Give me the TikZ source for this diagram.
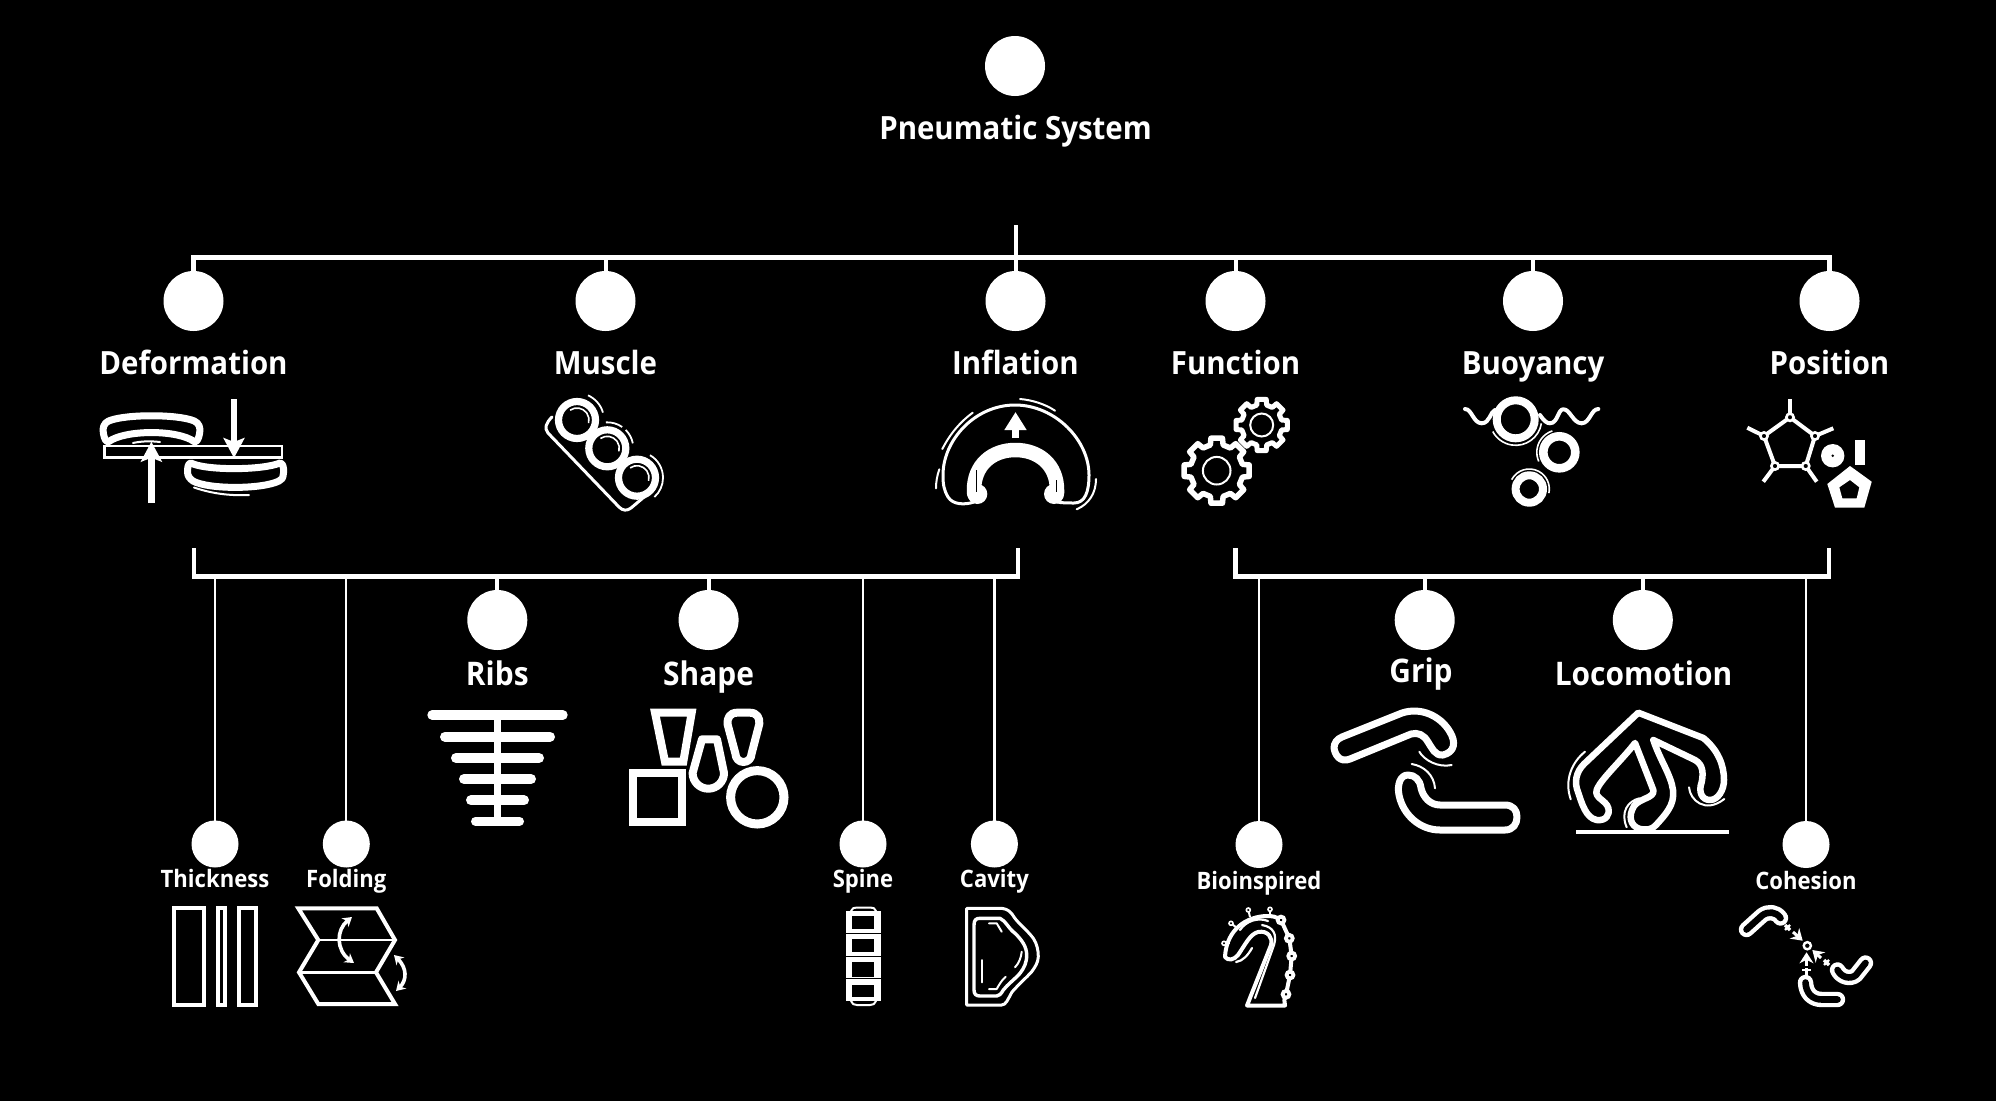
\documentclass[tikz,border=0pt]{standalone}
\usepackage{fontspec}
\setmainfont{Open Sans}[BoldFont={Open Sans Bold},BoldFeatures={FakeStretch=0.92}]
\usetikzlibrary{arrows.meta}
\tikzset{
  bigdot/.style={circle,fill=white,draw=none,minimum size=60pt,inner sep=0pt,outer sep=0pt},
  smalldot/.style={circle,fill=white,draw=none,minimum size=47pt,inner sep=0pt,outer sep=0pt},
  lab/.style={text=white,anchor=base,inner sep=0pt,font=\bfseries\fontsize{#1}{#1}\selectfont},
  heavy/.style={draw=white,line width=4.2pt},
  link/.style={draw=white,line width=4pt},
  thinlink/.style={draw=white,line width=2.2pt},
  ic/.style={draw=white,line width=#1,line join=round,line cap=round},
  icm/.style={draw=white,line width=#1,line join=miter},
  tube/.style={draw=white,line width=4.4pt,double=black,double distance=6.6pt,line cap=round,line join=round},
  headw/.style={-{Stealth[length=11pt,width=14pt]}},
}
\newcommand\ringarc[6]{\draw[draw=white,line width=#6] ([shift={(#1,#2)}]#4:#3) arc[start angle=#4,end angle=#5,radius=#3];}
\newcommand\gearshape[5]{\draw[draw=white,line width=#5,line join=round] ([shift={(#1,#2)}]-14:#4)
  \foreach \a in {0,45,...,315}{ -- ([shift={(#1,#2)}]\a-14:#4) -- ([shift={(#1,#2)}]\a-10:#3) -- ([shift={(#1,#2)}]\a+10:#3) -- ([shift={(#1,#2)}]\a+14:#4)} -- cycle;}
\begin{document}
\begin{tikzpicture}[x=1pt,y=-1pt]
\useasboundingbox (0,0) rectangle (1996,1100);
\fill[black] (-6,-6) rectangle (2002,1106);

% --- level 0 and 1 nodes
\node[bigdot] (root) at (1015,66) {};
\node[lab=32] (lroot) at (1015.5,139) {Pneumatic System};
\node[bigdot] (defo) at (193.5,301) {};
\node[bigdot] (musc) at (605.5,301) {};
\node[bigdot] (infl) at (1015.5,301) {};
\node[bigdot] (func) at (1235.5,301) {};
\node[bigdot] (buoy) at (1533,301) {};
\node[bigdot] (posi) at (1829.5,301) {};
\node[lab=32] (ldefo) at (193.5,374) {Deformation};
\node[lab=32] (lmusc) at (605.5,374) {Muscle};
\node[lab=32] (linfl) at (1015.5,374) {Inflation};
\node[lab=32] (lfunc) at (1235.5,374) {Function};
\node[lab=32] (lbuoy) at (1533,374) {Buoyancy};
\node[lab=32] (lposi) at (1829.5,374) {Position};

\coordinate (stub) at (1015.5,225);
\coordinate (bus) at (1015.5,257.5);
\draw[heavy] (defo.north) -- (defo.north |- bus) -- (posi.north |- bus) -- (posi.north);
\draw[link] (stub) -- (infl.north);
\draw[link] (musc.north) -- (musc.north |- bus);
\draw[link] (func.north) -- (func.north |- bus);
\draw[link] (buoy.north) -- (buoy.north |- bus);

% --- second level
\coordinate (brA) at (194,548);
\coordinate (brB) at (1018,548);
\coordinate (brC) at (1235.5,548);
\coordinate (brD) at (1829,548);
\coordinate (busL) at (600,576.5);
\coordinate (busR) at (1500,576.5);
\draw[heavy,line join=miter] (brA) -- (brA |- busL) -- (brB |- busL) -- (brB);
\draw[heavy,line join=miter] (brC) -- (brC |- busR) -- (brD |- busR) -- (brD);

\node[bigdot] (ribs) at (497.3,620) {};
\node[bigdot] (shap) at (708.6,620) {};
\node[bigdot] (grip) at (1424.7,620) {};
\node[bigdot] (loco) at (1642.8,620) {};
\node[smalldot] (thic) at (215,844) {};
\node[smalldot] (fold) at (346.3,844) {};
\node[smalldot] (spin) at (863,844) {};
\node[smalldot] (cavi) at (994.4,844) {};
\node[smalldot] (bioi) at (1259,844.5) {};
\node[smalldot] (cohe) at (1806,844.5) {};
\node[lab=32.5] (lribs) at (497.3,685.5) {Ribs};
\node[lab=32.5] (lshap) at (708.6,685.5) {Shape};
\node[lab=32.5] (lgrip) at (1421,682) {Grip};
\node[lab=32.5] (lloco) at (1643.5,685.5) {Locomotion};
\node[lab=24] (lthic) at (215,887.5) {Thickness};
\node[lab=24] (lfold) at (346.3,887.5) {Folding};
\node[lab=24] (lspin) at (863,887.5) {Spine};
\node[lab=24] (lcavi) at (994.4,887.5) {Cavity};
\node[lab=24] (lbioi) at (1259,889) {Bioinspired};
\node[lab=24] (lcohe) at (1806,889) {Cohesion};

\draw[link] (ribs.north) -- (ribs.north |- busL);
\draw[link] (shap.north) -- (shap.north |- busL);
\draw[link] (grip.north) -- (grip.north |- busR);
\draw[link] (loco.north) -- (loco.north |- busR);
\draw[thinlink] (thic.north) -- (thic.north |- busL);
\draw[thinlink] (fold.north) -- (fold.north |- busL);
\draw[thinlink] (spin.north) -- (spin.north |- busL);
\draw[thinlink] (cavi.north) -- (cavi.north |- busL);
\draw[thinlink] (bioi.north) -- (bioi.north |- busR);
\draw[thinlink] (cohe.north) -- (cohe.north |- busR);

% --- Deformation icon
\draw[ic=7pt] (108.6,421) .. controls (125,414) and (178,414) .. (194.3,421) .. controls (199,423) and (201,428) .. (199.5,434) .. controls (198.5,439) and (197,442) .. (194.3,441.7) .. controls (178,429.5) and (125,429.5) .. (108.6,441.7) .. controls (106,442) and (104.5,439) .. (103.5,434) .. controls (102,428) and (104,423) .. (108.6,421) -- cycle;
\draw[ic=7pt] (191,463) .. controls (205,470.5) and (262,470.5) .. (280,463) .. controls (283,463) and (284,468) .. (283.5,473) .. controls (283,478) and (282,480) .. (279,481) .. controls (262,489.5) and (208,489.5) .. (193,481) .. controls (190,479) and (187.5,476) .. (187.5,472) .. controls (187.5,468) and (188,463) .. (191,463) -- cycle;
\draw[icm=2.6pt] (104.5,446) rectangle (282,457.7);
\draw[ic=2pt] (133,443) .. controls (142,441) and (151,441) .. (160,442);
\draw[ic=2pt] (194,487.5) .. controls (210,493) and (228,496) .. (249,495);
\draw[draw=white,line width=6.5pt,-{Stealth[length=20pt,width=21pt,inset=4pt]}] (151.4,503) -- (151.4,441.7);
\draw[draw=white,line width=6.5pt,-{Stealth[length=20pt,width=21pt,inset=4pt]}] (234,399) -- (234,458);

% --- Muscle icon
\draw[ic=3pt] (552,417) .. controls (546,423) and (544,428) .. (548,433) -- (619,507) .. controls (623,511) and (627,511) .. (631,508) -- (650,492);
\foreach \cx/\cy in {577/420,607.3/448.3,637/477.7}{
  \draw[draw=white,fill=black,line width=7.2pt] (\cx,\cy) circle[radius=18.5];
  \ringarc{\cx}{\cy}{12}{-125}{15}{1.6pt}
}
\ringarc{577}{420}{27}{-66}{-16}{1.8pt}
\ringarc{607.3}{448.3}{26}{-93}{-55}{1.8pt}
\ringarc{607.3}{448.3}{26}{-45}{-11}{1.8pt}
\ringarc{637}{477.7}{26}{-60}{48}{1.8pt}

% --- Inflation icon
\draw[ic=3pt] (974,502) .. controls (965,505) and (953,505) .. (948,497) .. controls (944,490) and (943,485) .. (943,475) .. controls (943,440) and (975,405) .. (1015,405) .. controls (1055,405) and (1089,440) .. (1089,475) .. controls (1089,492) and (1085,503) .. (1074,503) .. controls (1068,503) and (1062,503) .. (1057,502);
\draw[ic=14.5pt] (974,493) -- (974,490) .. controls (974,465) and (992,450) .. (1015.3,450) .. controls (1039,450) and (1057,465) .. (1057,490) -- (1057,493);
\fill[white] (977.3,494) circle[radius=10];
\fill[white] (1054,494) circle[radius=10];
\draw[draw=black,line width=1pt] (976,470) -- (976,492);
\draw[draw=black,line width=1pt] (1056.7,480) -- (1056.7,492);
\draw[draw=white,line width=7.3pt,-{Stealth[length=18pt,width=21pt,inset=0pt]}] (1015.5,438) -- (1015.5,412);
\draw[ic=2pt] (942.3,449) .. controls (950,434) and (960,422) .. (972.7,412.7);
\draw[ic=2pt] (1020,399) .. controls (1032,400) and (1045,404) .. (1055,410.7);
\draw[ic=2pt] (939.3,469.3) .. controls (937,476) and (936,482) .. (936,488.3);
\draw[ic=2pt] (1096,479) .. controls (1096,493) and (1089,504) .. (1076.7,509.3);

% --- Function icon
\gearshape{1216.7}{470.7}{33}{26.5}{5.5pt}
\gearshape{1261.7}{425}{26}{20.5}{5pt}
\draw[draw=white,line width=2pt] (1216.7,470.7) circle[radius=13.8];
\draw[draw=white,line width=2pt] (1261.7,425) circle[radius=11.5];

% --- Buoyancy icon
\draw[ic=4pt] (1465,409) .. controls (1472,409) and (1473,423) .. (1481.7,423.3) .. controls (1490,423) and (1490,412) .. (1495,410);
\draw[ic=4pt] (1540,415) .. controls (1544,421) and (1547,423.3) .. (1550,423.3) .. controls (1558,423) and (1558,409) .. (1563.3,409.3) .. controls (1570,409) and (1573,423.3) .. (1581.7,423.3) .. controls (1590,423) and (1591,409) .. (1598.3,409);
\draw[draw=white,line width=8pt] (1515.7,419.3) circle[radius=19];
\draw[draw=white,line width=8.6pt] (1559.3,452.3) circle[radius=16];
\draw[draw=white,line width=8pt] (1529.3,489) circle[radius=13.7];
\ringarc{1515.7}{419.3}{26}{9}{152}{1.6pt}
\ringarc{1559.3}{452.3}{22.5}{156}{252}{1.6pt}
\ringarc{1529.3}{489}{20}{208}{372}{1.6pt}

% --- Position icon
\draw[ic=4pt] (1790,417.3) -- (1815,436) -- (1805.7,466) -- (1775,466) -- (1764,436) -- cycle;
\draw[draw=white,line width=4pt] (1790,417.3) -- (1790,399);
\draw[draw=white,line width=4pt] (1815,436) -- (1833.3,428.3);
\draw[draw=white,line width=4pt] (1805.7,466) -- (1816.7,481.7);
\draw[draw=white,line width=4pt] (1775,466) -- (1763.3,481.7);
\draw[draw=white,line width=4pt] (1764,436) -- (1747.3,427.7);
\foreach \cx/\cy in {1790/417.3,1815/436,1805.7/466,1775/466,1764/436}{
  \draw[draw=white,fill=black,line width=2.6pt] (\cx,\cy) circle[radius=3.6];
}
\fill[white] (1832.7,455.7) circle[radius=11.7];
\fill[black] (1832.7,455.7) circle[radius=1.4];
\fill[white] (1855.3,440) rectangle (1865,465);
\fill[white,even odd rule] (1850,466) -- (1871.7,481.7) -- (1864.3,507.7) -- (1835,507.7) -- (1827.3,484) -- cycle (1850,480) -- (1859.3,487.3) -- (1856.7,498.3) -- (1842.3,498.3) -- (1839.3,487.3) -- cycle;

% --- Ribs icon
\draw[draw=white,line width=7pt] (497.3,715) -- (497.3,821);
\draw[ic=10pt] (432.3,715) -- (562.7,715);
\draw[ic=10pt] (445,736.7) -- (550,736.7);
\draw[ic=10pt] (456,758) -- (539,758);
\draw[ic=10pt] (464,779) -- (531,779);
\draw[ic=10pt] (471,800.3) -- (524,800.3);
\draw[ic=9pt] (475.5,821.3) -- (519.5,821.3);

% --- Shape icon
\draw[icm=8pt] (655,712.7) -- (691.7,712.7) -- (683.3,761.7) -- (665,761.7) -- cycle;
\draw[icm=8pt] (633.3,773.3) rectangle (682.2,822);
\draw[draw=white,line width=9pt] (757.3,797.3) circle[radius=26.7];
\draw[ic=8pt] (702,739.3) -- (717,739.3) -- (724,773) arc[start angle=0,end angle=180,radius=15.7] -- cycle;
\draw[ic=8pt] (737,712.7) -- (750,712.7) .. controls (757,712.7) and (760,718) .. (759.3,724) -- (751.5,754) arc[start angle=0,end angle=180,radius=8] -- (727.5,724) .. controls (727,718) and (730,712.7) .. (737,712.7) -- cycle;

% --- Thickness icon
\draw[icm=4pt] (174.3,908) rectangle (204,1004.7);
\draw[icm=4pt] (218,908) rectangle (224.7,1004.7);
\draw[icm=4pt] (239.3,908) rectangle (256,1004.7);

% --- Folding icon
\draw[icm=4pt] (298.3,908.3) -- (376.7,908.3) -- (395,940) -- (376,972.3) -- (395,1004) -- (318.3,1004) -- (299,972.3) -- (318.3,940) -- cycle;
\draw[draw=white,line width=2.8pt] (318.3,940) -- (395,940);
\draw[draw=white,line width=2.8pt] (299,972.3) -- (376,972.3);
\draw[draw=white,line width=3.6pt,{Stealth[length=9pt,width=11pt]}-{Stealth[length=9pt,width=11pt]}] (352,917) .. controls (336,930) and (336,950) .. (354,963);
\draw[draw=white,line width=3.6pt,{Stealth[length=9pt,width=11pt]}-{Stealth[length=9pt,width=11pt]}] (394,955) .. controls (407,968) and (407,980) .. (396,991);

% --- Spine icon
\fill[white] (845.7,910.7) rectangle (881,1001);
\fill[black] (852.3,916) rectangle (874.3,929.3);
\fill[black] (852.3,939) rectangle (874.3,951.7);
\fill[black] (852.3,961.7) rectangle (874.3,977);
\fill[black] (852.3,985) rectangle (874.3,996.7);
\draw[draw=black,line width=1pt] (845.7,933.3) -- (881,933.3);
\draw[draw=black,line width=1pt] (845.7,956) -- (881,956);
\draw[draw=black,line width=1pt] (845.7,978.3) -- (881,978.3);
\draw[ic=2pt] (851,911) .. controls (852,908) and (854,907.5) .. (857,907.5) -- (870,907.5) .. controls (873,907.5) and (875,908) .. (876,911);
\draw[ic=2pt] (851,1001) .. controls (852,1004) and (854,1005) .. (857,1005) -- (870,1005) .. controls (873,1005) and (875,1004) .. (876,1001);

% --- Cavity icon
\draw[ic=3pt] (966.7,908.3) -- (1001.7,908.3) .. controls (1008,909) and (1011,912) .. (1014,917) .. controls (1017,922) and (1028,931) .. (1033.3,938.3) .. controls (1037,944) and (1038.3,950) .. (1038.3,956.7) .. controls (1038,963) and (1035,967) .. (1031.7,971.7) .. controls (1027,977) and (1018,985) .. (1012,992) .. controls (1008,999) and (1006,1005) .. (1001.7,1005) -- (966.7,1005) -- cycle;
\draw[ic=3.4pt] (980,918.3) -- (1000,918.3) .. controls (1006,921) and (1008,928) .. (1015,933.3) .. controls (1022,940) and (1026.7,947) .. (1026.7,955) .. controls (1026.7,963) and (1024,968) .. (1020,973.3) .. controls (1014,980) and (1008,984) .. (1003.3,990) .. controls (1001,994) and (999,996) .. (996.7,996) -- (980,996) .. controls (976,996) and (974,994) .. (974,990) -- (974,925) .. controls (974,920) and (976,918.3) .. (980,918.3) -- cycle;
\draw[ic=2pt] (989,923.3) -- (996.7,923.3) -- (1001.7,931.7);
\draw[ic=2pt] (1021.7,951.7) .. controls (1021,958) and (1019,963) .. (1015,967.3);
\draw[ic=2pt] (1005.7,976.7) .. controls (1001,981) and (999,985) .. (996.7,989) -- (989,989);
\draw[ic=2pt] (981.7,960) -- (981.7,982.3);

% --- Bioinspired icon
\draw[ic=4pt] (1286,994.3) .. controls (1284,999) and (1284,1002) .. (1285,1005.5) -- (1247,1005.5) -- (1271,945) .. controls (1273,938) and (1268,930) .. (1258,932) .. controls (1250,934) and (1245,945) .. (1238,955) .. controls (1234,960) and (1228,961) .. (1225,957) .. controls (1226,935) and (1240,918) .. (1265,916) .. controls (1272,915.5) and (1277,917) .. (1281,920) -- (1289.3,938.3) -- (1291.7,956) -- (1290,975) -- (1286,994.3);
\draw[ic=2.2pt] (1240,930) .. controls (1246,921) and (1258,917) .. (1268,921);
\draw[ic=2.2pt] (1255,998) -- (1274,945) .. controls (1277,935) and (1274,927) .. (1262,925);
\draw[ic=2.2pt] (1252,948) .. controls (1248,955) and (1243,961) .. (1236,962);
\draw[draw=white,line width=2pt] (1231,923.3) -- (1237,928);
\draw[draw=white,line width=2pt] (1248.3,910) -- (1250,917);
\draw[draw=white,line width=2pt] (1270,909.3) -- (1270,916);
\draw[draw=white,line width=2pt] (1224,943.3) -- (1230,943.3);
\foreach \cx/\cy in {1281/920,1289.3/938.3,1291.7/956,1290/975,1286/994.3}{
  \draw[draw=white,fill=black,line width=3.8pt] (\cx,\cy) circle[radius=3.4];
}
\foreach \cx/\cy in {1231/923.3,1248.3/910,1270/909.3,1224/943.3}{
  \draw[draw=white,fill=black,line width=1.6pt] (\cx,\cy) circle[radius=2];
}

% --- Cohesion icon
\draw[tube] (1746.5,929.5) -- (1762,915.5) .. controls (1768,911) and (1776,911.5) .. (1780.5,918);
\draw[tube] (1837.5,970) .. controls (1841,977) and (1850,980) .. (1856,975) -- (1865.5,963);
\draw[tube] (1805.5,982.5) .. controls (1806,993) and (1812,999.5) .. (1822,999.5) -- (1837.5,999.5);
\draw[draw=white,line width=2.4pt] (1807.3,945.7) circle[radius=3.6];
\draw[draw=white,line width=3pt,headw] (1793,932) -- (1802.7,940.7);
\draw[draw=white,line width=3.4pt] (1785,925) -- (1790,930);
\draw[draw=white,line width=2.4pt] (1785,930) -- (1790,925);
\draw[draw=white,line width=3pt,headw] (1806.5,966) -- (1806.5,952.3);
\draw[draw=white,line width=3.4pt] (1806.5,968) -- (1806.5,975);
\draw[draw=white,line width=2.4pt] (1802,970) -- (1811,970);
\draw[draw=white,line width=3pt,headw] (1821,958) -- (1812.3,950);
\draw[draw=white,line width=3.4pt] (1824,960) -- (1829,965);
\draw[draw=white,line width=2.4pt] (1824,965) -- (1829,960);

% --- Grip icon
\draw[ic=7pt] (1342,737) -- (1402,713) .. controls (1420,707) and (1440,715) .. (1450,732) .. controls (1456,742) and (1455,752) .. (1443,755) .. controls (1435,756) and (1432,748) .. (1428,742) .. controls (1424,735) and (1418,732) .. (1411,734) -- (1350,759) .. controls (1340,763) and (1335,755) .. (1334,748) .. controls (1334,743) and (1337,739) .. (1342,737) -- cycle;
\draw[ic=7pt] (1408,775) .. controls (1400,775) and (1397,785) .. (1399,795) .. controls (1403,815) and (1420,830) .. (1440,830) -- (1505,830) .. controls (1513,830) and (1517,824) .. (1517,817) .. controls (1517,810) and (1513,805) .. (1505,805) -- (1440,805) .. controls (1430,805) and (1423,797) .. (1421,788) .. controls (1420,780) and (1415,775) .. (1408,775) -- cycle;
\draw[ic=2pt] (1419.3,751.7) .. controls (1424,760) and (1438,768) .. (1451.7,765);
\draw[ic=2pt] (1411.7,764) .. controls (1424,766) and (1434,775) .. (1435,788.3);

% --- Locomotion icon
\draw[draw=white,line width=4pt] (1576,831.7) -- (1729,831.7);
\draw[ic=6.5pt] (1638.3,712.7) -- (1584,764) .. controls (1576,772) and (1574,782) .. (1578,792) .. controls (1582,804) and (1586,818) .. (1596.7,820) .. controls (1606,821) and (1610,815) .. (1608.3,808) .. controls (1606,800) and (1594,798) .. (1596.7,790) .. controls (1600,780) and (1622,760) .. (1635,743) -- (1653.3,790) .. controls (1655,798) and (1640,798) .. (1634,806) .. controls (1628,816) and (1630,826) .. (1640,829) .. controls (1646,830) and (1652,830) .. (1656,825) .. controls (1665,815) and (1675,805) .. (1673,790) .. controls (1671,775) and (1660,760) .. (1653.3,740) -- (1695,760) .. controls (1704,765) and (1703,775) .. (1701.7,782) .. controls (1698,792) and (1702,800) .. (1710,800) .. controls (1718,800) and (1724,790) .. (1724,780) .. controls (1724,765) and (1718,750) .. (1703.3,738) -- cycle;
\draw[ic=2pt] (1585,751.7) .. controls (1572,762) and (1564,780) .. (1570.7,799.3);
\draw[ic=2pt] (1639.3,798.3) .. controls (1628,801) and (1620,812) .. (1626.7,827.3);
\draw[ic=2pt] (1689,787.3) .. controls (1690,800) and (1705,814) .. (1724.3,799);
\end{tikzpicture}
\end{document}
